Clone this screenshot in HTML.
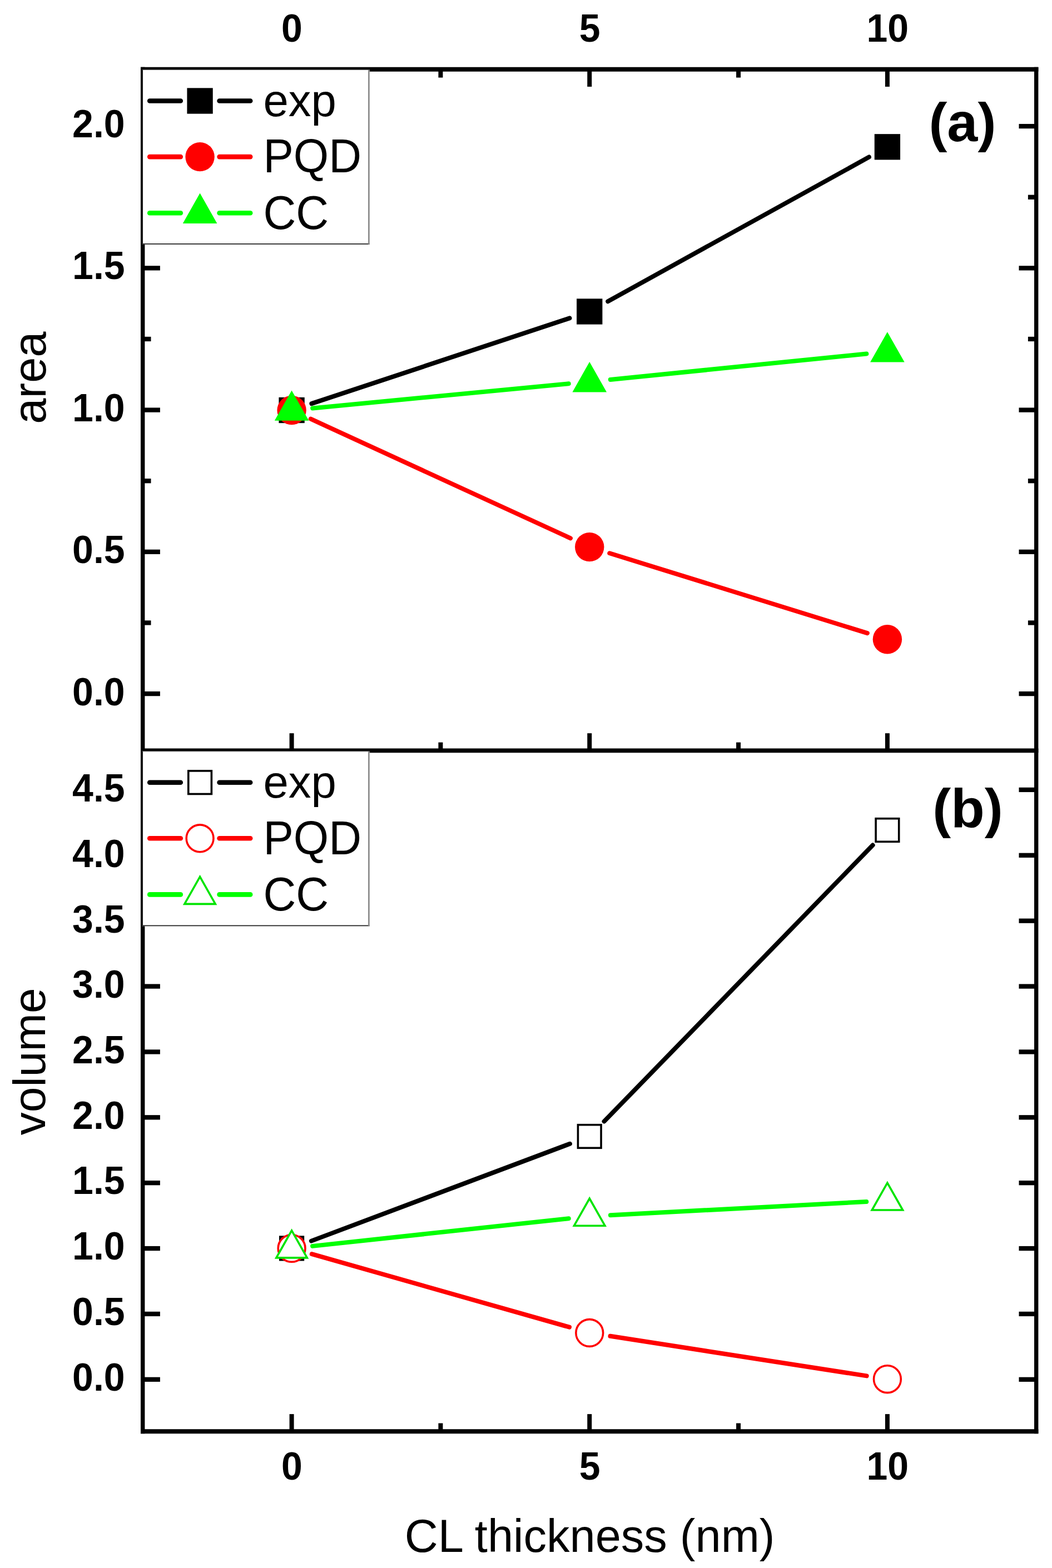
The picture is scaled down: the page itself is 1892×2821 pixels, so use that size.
<!DOCTYPE html>
<html lang="en">
<head>
<meta charset="utf-8">
<title>Area and volume vs CL thickness</title>
<style>
html,body{margin:0;padding:0;background:#fff;}
body{width:1892px;height:2821px;overflow:hidden;}
svg{display:block;}
text{font-family:"Liberation Sans",sans-serif;fill:#000;}
.tk{font-size:68px;font-weight:700;}
.lg{font-size:81.5px;}
.ax{font-size:83px;}
.pl{font-size:99px;font-weight:700;}
</style>
</head>
<body>
<svg width="1892" height="2821" viewBox="0 0 1892 2821">
<rect width="1892" height="2821" fill="#ffffff"/>
<g id="ticks">
<line x1="524.6" y1="124.8" x2="524.6" y2="156" stroke="#000000" stroke-width="8" stroke-linecap="butt"/>
<line x1="524.6" y1="1350.4" x2="524.6" y2="1319.2" stroke="#000000" stroke-width="8" stroke-linecap="butt"/>
<line x1="524.6" y1="2575.3" x2="524.6" y2="2544.1" stroke="#000000" stroke-width="8" stroke-linecap="butt"/>
<line x1="1060.25" y1="124.8" x2="1060.25" y2="156" stroke="#000000" stroke-width="8" stroke-linecap="butt"/>
<line x1="1060.25" y1="1350.4" x2="1060.25" y2="1319.2" stroke="#000000" stroke-width="8" stroke-linecap="butt"/>
<line x1="1060.25" y1="2575.3" x2="1060.25" y2="2544.1" stroke="#000000" stroke-width="8" stroke-linecap="butt"/>
<line x1="1595.9" y1="124.8" x2="1595.9" y2="156" stroke="#000000" stroke-width="8" stroke-linecap="butt"/>
<line x1="1595.9" y1="1350.4" x2="1595.9" y2="1319.2" stroke="#000000" stroke-width="8" stroke-linecap="butt"/>
<line x1="1595.9" y1="2575.3" x2="1595.9" y2="2544.1" stroke="#000000" stroke-width="8" stroke-linecap="butt"/>
<line x1="792.42" y1="124.8" x2="792.42" y2="139.6" stroke="#000000" stroke-width="8" stroke-linecap="butt"/>
<line x1="792.42" y1="1350.4" x2="792.42" y2="1335.6" stroke="#000000" stroke-width="8" stroke-linecap="butt"/>
<line x1="792.42" y1="2575.3" x2="792.42" y2="2560.5" stroke="#000000" stroke-width="8" stroke-linecap="butt"/>
<line x1="1328.07" y1="124.8" x2="1328.07" y2="139.6" stroke="#000000" stroke-width="8" stroke-linecap="butt"/>
<line x1="1328.07" y1="1350.4" x2="1328.07" y2="1335.6" stroke="#000000" stroke-width="8" stroke-linecap="butt"/>
<line x1="1328.07" y1="2575.3" x2="1328.07" y2="2560.5" stroke="#000000" stroke-width="8" stroke-linecap="butt"/>
<line x1="256.7" y1="1248.1" x2="287.9" y2="1248.1" stroke="#000000" stroke-width="8.3" stroke-linecap="butt"/>
<line x1="1863.7" y1="1248.1" x2="1832.5" y2="1248.1" stroke="#000000" stroke-width="8.3" stroke-linecap="butt"/>
<line x1="256.7" y1="992.85" x2="287.9" y2="992.85" stroke="#000000" stroke-width="8.3" stroke-linecap="butt"/>
<line x1="1863.7" y1="992.85" x2="1832.5" y2="992.85" stroke="#000000" stroke-width="8.3" stroke-linecap="butt"/>
<line x1="256.7" y1="737.6" x2="287.9" y2="737.6" stroke="#000000" stroke-width="8.3" stroke-linecap="butt"/>
<line x1="1863.7" y1="737.6" x2="1832.5" y2="737.6" stroke="#000000" stroke-width="8.3" stroke-linecap="butt"/>
<line x1="256.7" y1="482.35" x2="287.9" y2="482.35" stroke="#000000" stroke-width="8.3" stroke-linecap="butt"/>
<line x1="1863.7" y1="482.35" x2="1832.5" y2="482.35" stroke="#000000" stroke-width="8.3" stroke-linecap="butt"/>
<line x1="256.7" y1="227.1" x2="287.9" y2="227.1" stroke="#000000" stroke-width="8.3" stroke-linecap="butt"/>
<line x1="1863.7" y1="227.1" x2="1832.5" y2="227.1" stroke="#000000" stroke-width="8.3" stroke-linecap="butt"/>
<line x1="256.7" y1="1120.47" x2="271.5" y2="1120.47" stroke="#000000" stroke-width="8.3" stroke-linecap="butt"/>
<line x1="1863.7" y1="1120.47" x2="1848.9" y2="1120.47" stroke="#000000" stroke-width="8.3" stroke-linecap="butt"/>
<line x1="256.7" y1="865.22" x2="271.5" y2="865.22" stroke="#000000" stroke-width="8.3" stroke-linecap="butt"/>
<line x1="1863.7" y1="865.22" x2="1848.9" y2="865.22" stroke="#000000" stroke-width="8.3" stroke-linecap="butt"/>
<line x1="256.7" y1="609.97" x2="271.5" y2="609.97" stroke="#000000" stroke-width="8.3" stroke-linecap="butt"/>
<line x1="1863.7" y1="609.97" x2="1848.9" y2="609.97" stroke="#000000" stroke-width="8.3" stroke-linecap="butt"/>
<line x1="256.7" y1="354.72" x2="271.5" y2="354.72" stroke="#000000" stroke-width="8.3" stroke-linecap="butt"/>
<line x1="1863.7" y1="354.72" x2="1848.9" y2="354.72" stroke="#000000" stroke-width="8.3" stroke-linecap="butt"/>
<line x1="256.7" y1="2481.8" x2="287.9" y2="2481.8" stroke="#000000" stroke-width="8.3" stroke-linecap="butt"/>
<line x1="1863.7" y1="2481.8" x2="1832.5" y2="2481.8" stroke="#000000" stroke-width="8.3" stroke-linecap="butt"/>
<line x1="256.7" y1="2363.93" x2="287.9" y2="2363.93" stroke="#000000" stroke-width="8.3" stroke-linecap="butt"/>
<line x1="1863.7" y1="2363.93" x2="1832.5" y2="2363.93" stroke="#000000" stroke-width="8.3" stroke-linecap="butt"/>
<line x1="256.7" y1="2246.05" x2="287.9" y2="2246.05" stroke="#000000" stroke-width="8.3" stroke-linecap="butt"/>
<line x1="1863.7" y1="2246.05" x2="1832.5" y2="2246.05" stroke="#000000" stroke-width="8.3" stroke-linecap="butt"/>
<line x1="256.7" y1="2128.18" x2="287.9" y2="2128.18" stroke="#000000" stroke-width="8.3" stroke-linecap="butt"/>
<line x1="1863.7" y1="2128.18" x2="1832.5" y2="2128.18" stroke="#000000" stroke-width="8.3" stroke-linecap="butt"/>
<line x1="256.7" y1="2010.3" x2="287.9" y2="2010.3" stroke="#000000" stroke-width="8.3" stroke-linecap="butt"/>
<line x1="1863.7" y1="2010.3" x2="1832.5" y2="2010.3" stroke="#000000" stroke-width="8.3" stroke-linecap="butt"/>
<line x1="256.7" y1="1892.43" x2="287.9" y2="1892.43" stroke="#000000" stroke-width="8.3" stroke-linecap="butt"/>
<line x1="1863.7" y1="1892.43" x2="1832.5" y2="1892.43" stroke="#000000" stroke-width="8.3" stroke-linecap="butt"/>
<line x1="256.7" y1="1774.55" x2="287.9" y2="1774.55" stroke="#000000" stroke-width="8.3" stroke-linecap="butt"/>
<line x1="1863.7" y1="1774.55" x2="1832.5" y2="1774.55" stroke="#000000" stroke-width="8.3" stroke-linecap="butt"/>
<line x1="256.7" y1="1656.68" x2="287.9" y2="1656.68" stroke="#000000" stroke-width="8.3" stroke-linecap="butt"/>
<line x1="1863.7" y1="1656.68" x2="1832.5" y2="1656.68" stroke="#000000" stroke-width="8.3" stroke-linecap="butt"/>
<line x1="256.7" y1="1538.8" x2="287.9" y2="1538.8" stroke="#000000" stroke-width="8.3" stroke-linecap="butt"/>
<line x1="1863.7" y1="1538.8" x2="1832.5" y2="1538.8" stroke="#000000" stroke-width="8.3" stroke-linecap="butt"/>
<line x1="256.7" y1="1420.93" x2="287.9" y2="1420.93" stroke="#000000" stroke-width="8.3" stroke-linecap="butt"/>
<line x1="1863.7" y1="1420.93" x2="1832.5" y2="1420.93" stroke="#000000" stroke-width="8.3" stroke-linecap="butt"/>
</g>
<g id="frame">
<line x1="256.7" y1="120.85" x2="256.7" y2="2579.25" stroke="#000000" stroke-width="7.4" stroke-linecap="butt"/>
<line x1="1863.7" y1="120.85" x2="1863.7" y2="2579.25" stroke="#000000" stroke-width="7.4" stroke-linecap="butt"/>
<line x1="253" y1="124.8" x2="1867.4" y2="124.8" stroke="#000000" stroke-width="7.9" stroke-linecap="butt"/>
<line x1="253" y1="1350.4" x2="1867.4" y2="1350.4" stroke="#000000" stroke-width="7.9" stroke-linecap="butt"/>
<line x1="253" y1="2575.3" x2="1867.4" y2="2575.3" stroke="#000000" stroke-width="7.9" stroke-linecap="butt"/>
</g>
<g id="panel-a">
<line x1="560.39" y1="726.14" x2="1024.46" y2="572.36" stroke="#000000" stroke-width="8" stroke-linecap="round"/>
<line x1="1093.24" y1="542.26" x2="1562.91" y2="282.54" stroke="#000000" stroke-width="8" stroke-linecap="round"/>
<rect x="501.45" y="714.85" width="46.3" height="46.3" fill="#000000"/>
<rect x="1037.1" y="537.35" width="46.3" height="46.3" fill="#000000"/>
<rect x="1572.75" y="241.15" width="46.3" height="46.3" fill="#000000"/>
<line x1="558.86" y1="753.74" x2="1025.99" y2="968.36" stroke="#ff0000" stroke-width="8" stroke-linecap="round"/>
<line x1="1096.26" y1="995.27" x2="1559.89" y2="1139.13" stroke="#ff0000" stroke-width="8" stroke-linecap="round"/>
<circle cx="524.6" cy="738" r="26.2" fill="#ff0000"/>
<circle cx="1060.25" cy="984.1" r="26.2" fill="#ff0000"/>
<circle cx="1595.9" cy="1150.3" r="26.2" fill="#ff0000"/>
<line x1="562.13" y1="734.41" x2="1022.72" y2="690.29" stroke="#00ff00" stroke-width="8" stroke-linecap="round"/>
<line x1="1097.76" y1="682.93" x2="1558.39" y2="636.57" stroke="#00ff00" stroke-width="8" stroke-linecap="round"/>
<polygon points="524.6,702.4 555.4,756.8 493.8,756.8" fill="#00ff00"/>
<polygon points="1060.25,651.1 1091.05,705.5 1029.45,705.5" fill="#00ff00"/>
<polygon points="1595.9,597.2 1626.7,651.6 1565.1,651.6" fill="#00ff00"/>
</g>
<g id="panel-b">
<line x1="559.89" y1="2232.63" x2="1024.96" y2="2057.77" stroke="#000000" stroke-width="8" stroke-linecap="round"/>
<line x1="1086.53" y1="2017.47" x2="1569.62" y2="1520.53" stroke="#000000" stroke-width="8" stroke-linecap="round"/>
<rect x="503.8" y="2225.1" width="41.6" height="41.6" fill="#fff" stroke="#000000" stroke-width="3.6"/>
<rect x="1039.45" y="2023.7" width="41.6" height="41.6" fill="#fff" stroke="#000000" stroke-width="3.6"/>
<rect x="1575.1" y="1472.7" width="41.6" height="41.6" fill="#fff" stroke="#000000" stroke-width="3.6"/>
<line x1="560.87" y1="2256.2" x2="1023.98" y2="2387.7" stroke="#ff0000" stroke-width="8" stroke-linecap="round"/>
<line x1="1097.5" y1="2403.79" x2="1558.65" y2="2475.41" stroke="#ff0000" stroke-width="8" stroke-linecap="round"/>
<circle cx="524.6" cy="2245.9" r="24.4" fill="#fff" stroke="#ff0000" stroke-width="3.6"/>
<circle cx="1060.25" cy="2398" r="24.4" fill="#fff" stroke="#ff0000" stroke-width="3.6"/>
<circle cx="1595.9" cy="2481.2" r="24.4" fill="#fff" stroke="#ff0000" stroke-width="3.6"/>
<line x1="562.08" y1="2241.86" x2="1022.77" y2="2192.24" stroke="#00ff00" stroke-width="8" stroke-linecap="round"/>
<line x1="1097.9" y1="2186.22" x2="1558.25" y2="2161.98" stroke="#00ff00" stroke-width="8" stroke-linecap="round"/>
<polygon points="524.6,2213.95 552.31,2262.9 496.89,2262.9" fill="#fff" stroke="#00e400" stroke-width="3.6" stroke-linejoin="miter"/>
<polygon points="1060.25,2156.25 1087.96,2205.2 1032.54,2205.2" fill="#fff" stroke="#00e400" stroke-width="3.6" stroke-linejoin="miter"/>
<polygon points="1595.9,2128.05 1623.61,2177 1568.19,2177" fill="#fff" stroke="#00e400" stroke-width="3.6" stroke-linejoin="miter"/>
</g>
<g id="legend-a">
<rect x="255.8" y="125.2" width="408.8" height="314.6" fill="#fff"/>
<line x1="256.4" y1="125.2" x2="256.4" y2="439.8" stroke="#000" stroke-width="1.2" stroke-linecap="butt"/>
<line x1="255.8" y1="438.9" x2="664.6" y2="438.9" stroke="#222" stroke-width="1.9" stroke-linecap="butt"/>
<line x1="663.4" y1="125.2" x2="663.4" y2="439.8" stroke="#868686" stroke-width="2.6" stroke-linecap="butt"/>
<line x1="255.8" y1="125.6" x2="664.6" y2="125.6" stroke="#444" stroke-width="0.8" stroke-linecap="butt"/>
<line x1="269.2" y1="181.5" x2="324.8" y2="181.5" stroke="#000000" stroke-width="8.6" stroke-linecap="round"/>
<line x1="394.6" y1="181.5" x2="450.2" y2="181.5" stroke="#000000" stroke-width="8.6" stroke-linecap="round"/>
<line x1="269.2" y1="282.1" x2="324.8" y2="282.1" stroke="#ff0000" stroke-width="8.6" stroke-linecap="round"/>
<line x1="394.6" y1="282.1" x2="450.2" y2="282.1" stroke="#ff0000" stroke-width="8.6" stroke-linecap="round"/>
<line x1="269.2" y1="383.2" x2="324.8" y2="383.2" stroke="#00ff00" stroke-width="8.6" stroke-linecap="round"/>
<line x1="394.6" y1="383.2" x2="450.2" y2="383.2" stroke="#00ff00" stroke-width="8.6" stroke-linecap="round"/>
<rect x="336.45" y="158.35" width="46.3" height="46.3" fill="#000000"/>
<circle cx="359.6" cy="282.1" r="26.2" fill="#ff0000"/>
<polygon points="359.6,347.6 390.4,402 328.8,402" fill="#00ff00"/>
<text class="lg" x="473.5" y="209.1">exp</text>
<text class="lg" transform="translate(473.5 310.4) scale(1 1.04)">PQD</text>
<text class="lg" transform="translate(473.5 411.5) scale(1 1.04)">CC</text>
</g>
<g id="legend-b">
<rect x="255.8" y="1351.4" width="408.8" height="314.9" fill="#fff"/>
<line x1="256.4" y1="1351.4" x2="256.4" y2="1666.3" stroke="#000" stroke-width="1.2" stroke-linecap="butt"/>
<line x1="255.8" y1="1665.4" x2="664.6" y2="1665.4" stroke="#222" stroke-width="1.9" stroke-linecap="butt"/>
<line x1="663.4" y1="1351.4" x2="663.4" y2="1666.3" stroke="#868686" stroke-width="2.6" stroke-linecap="butt"/>
<line x1="255.8" y1="1351.8" x2="664.6" y2="1351.8" stroke="#444" stroke-width="0.8" stroke-linecap="butt"/>
<line x1="269.2" y1="1407.7" x2="324.8" y2="1407.7" stroke="#000000" stroke-width="8.6" stroke-linecap="round"/>
<line x1="394.6" y1="1407.7" x2="450.2" y2="1407.7" stroke="#000000" stroke-width="8.6" stroke-linecap="round"/>
<line x1="269.2" y1="1508.3" x2="324.8" y2="1508.3" stroke="#ff0000" stroke-width="8.6" stroke-linecap="round"/>
<line x1="394.6" y1="1508.3" x2="450.2" y2="1508.3" stroke="#ff0000" stroke-width="8.6" stroke-linecap="round"/>
<line x1="269.2" y1="1609.4" x2="324.8" y2="1609.4" stroke="#00ff00" stroke-width="8.6" stroke-linecap="round"/>
<line x1="394.6" y1="1609.4" x2="450.2" y2="1609.4" stroke="#00ff00" stroke-width="8.6" stroke-linecap="round"/>
<rect x="338.8" y="1386.9" width="41.6" height="41.6" fill="#fff" stroke="#000000" stroke-width="3.6"/>
<circle cx="359.6" cy="1508.3" r="24.4" fill="#fff" stroke="#ff0000" stroke-width="3.6"/>
<polygon points="359.6,1577.45 387.31,1626.4 331.89,1626.4" fill="#fff" stroke="#00e400" stroke-width="3.6" stroke-linejoin="miter"/>
<text class="lg" x="473.5" y="1435.3">exp</text>
<text class="lg" transform="translate(473.5 1536.6) scale(1 1.04)">PQD</text>
<text class="lg" transform="translate(473.5 1637.7) scale(1 1.04)">CC</text>
</g>
<g id="labels">
<text class="tk" text-anchor="middle" transform="translate(524.9 75) scale(1 1.03)">0</text>
<text class="tk" text-anchor="middle" transform="translate(524.9 2662) scale(1 1.03)">0</text>
<text class="tk" text-anchor="middle" transform="translate(1060.55 75) scale(1 1.03)">5</text>
<text class="tk" text-anchor="middle" transform="translate(1060.55 2662) scale(1 1.03)">5</text>
<text class="tk" text-anchor="middle" transform="translate(1596.2 75) scale(1 1.03)">10</text>
<text class="tk" text-anchor="middle" transform="translate(1596.2 2662) scale(1 1.03)">10</text>
<text class="tk" text-anchor="end" transform="translate(224.6 1269) scale(1 1.03)">0.0</text>
<text class="tk" text-anchor="end" transform="translate(224.6 1012.85) scale(1 1.03)">0.5</text>
<text class="tk" text-anchor="end" transform="translate(224.6 757.6) scale(1 1.03)">1.0</text>
<text class="tk" text-anchor="end" transform="translate(224.6 502.35) scale(1 1.03)">1.5</text>
<text class="tk" text-anchor="end" transform="translate(224.6 247.1) scale(1 1.03)">2.0</text>
<text class="tk" text-anchor="end" transform="translate(224.6 2502.1) scale(1 1.03)">0.0</text>
<text class="tk" text-anchor="end" transform="translate(224.6 2384.23) scale(1 1.03)">0.5</text>
<text class="tk" text-anchor="end" transform="translate(224.6 2266.35) scale(1 1.03)">1.0</text>
<text class="tk" text-anchor="end" transform="translate(224.6 2148.48) scale(1 1.03)">1.5</text>
<text class="tk" text-anchor="end" transform="translate(224.6 2030.6) scale(1 1.03)">2.0</text>
<text class="tk" text-anchor="end" transform="translate(224.6 1912.73) scale(1 1.03)">2.5</text>
<text class="tk" text-anchor="end" transform="translate(224.6 1794.85) scale(1 1.03)">3.0</text>
<text class="tk" text-anchor="end" transform="translate(224.6 1678.08) scale(1 1.03)">3.5</text>
<text class="tk" text-anchor="end" transform="translate(224.6 1560.2) scale(1 1.03)">4.0</text>
<text class="tk" text-anchor="end" transform="translate(224.6 1442.33) scale(1 1.03)">4.5</text>
<text class="pl" x="1670.4" y="254.2">(a)</text>
<text class="pl" x="1677.2" y="1488.4">(b)</text>
<text class="ax" text-anchor="middle" transform="translate(82 679.6) rotate(-90)">area</text>
<text class="ax" style="font-size:82.2px" text-anchor="middle" transform="translate(81.2 1909.8) rotate(-90)">volume</text>
<text class="ax" text-anchor="middle" x="1060.6" y="2792">CL thickness (nm)</text>
</g>
</svg>
</body>
</html>
